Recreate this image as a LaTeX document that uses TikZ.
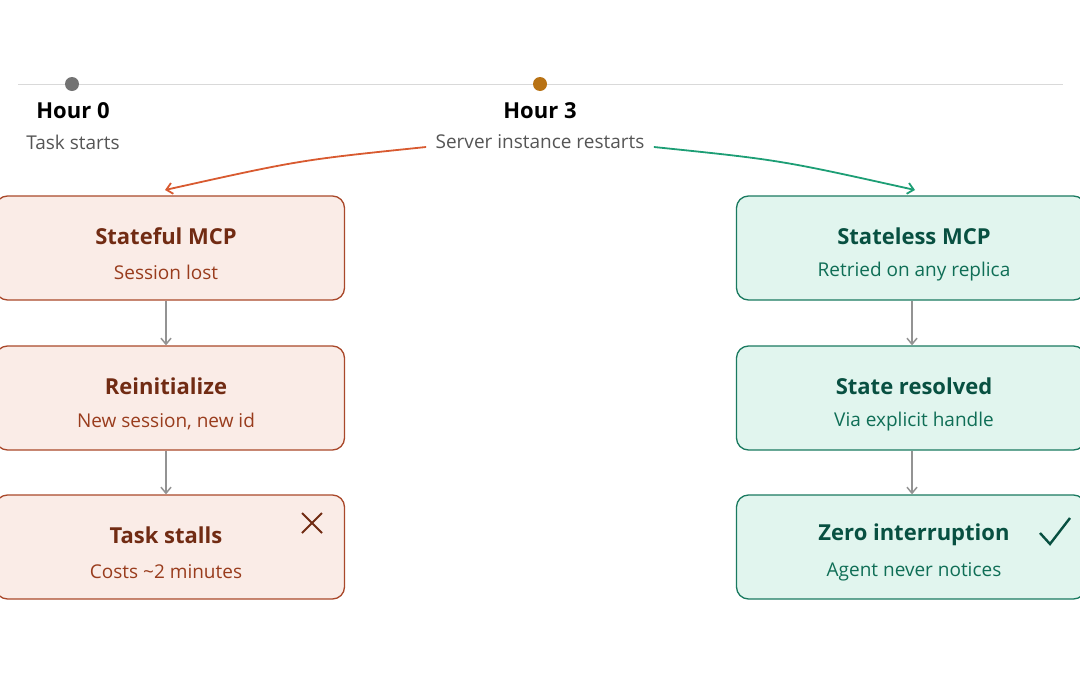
\documentclass[tikz,border=0pt]{standalone}
\usepackage{fontspec}
\setmainfont{Open Sans}
\usetikzlibrary{arrows.meta}
\definecolor{lfill}{HTML}{FAECE7}\definecolor{lbord}{HTML}{A9482A}
\definecolor{ltitle}{HTML}{712B13}\definecolor{lsub}{HTML}{993C1D}
\definecolor{rfill}{HTML}{E1F5EE}\definecolor{rbord}{HTML}{1A7A60}
\definecolor{rtitle}{HTML}{085041}\definecolor{rsub}{HTML}{0F6E56}
\definecolor{oarr}{HTML}{D85A30}\definecolor{garr}{HTML}{1D9E75}
\definecolor{gtxt}{HTML}{555555}\definecolor{dot3}{HTML}{B87214}
\begin{document}
\begin{tikzpicture}[x=1pt,y=-1pt,
 lbox/.style={draw=lbord,fill=lfill,line width=1.3pt,rounded corners=12pt,minimum width=349pt,minimum height=104pt},
 rbox/.style={draw=rbord,fill=rfill,line width=1.3pt,rounded corners=12pt,minimum width=349pt,minimum height=104pt},
 ttl/.style={font=\fontsize{22}{26}\selectfont\bfseries},
 sub/.style={font=\fontsize{19}{23}\selectfont},
 varr/.style={draw=gray!85,line width=1.5pt,-{Straight Barb[length=6pt,width=10pt]}}]
\useasboundingbox (0,0) rectangle (1080,675);
\draw[gray!30,line width=0.8pt] (18,84) -- (1063,84);
\fill[gray!90!black] (72,84) circle (7);
\fill[dot3] (540,84) circle (7);
\node[ttl] (h0) at (73,111) {Hour 0};
\node[sub,text=gtxt] (t0) at (73,142) {Task starts};
\node[ttl] (h3) at (540,111) {Hour 3};
\node[sub,text=gtxt] (t3) at (540,142) {Server instance restarts};
% left
\node[lbox] (l1) at (170,248) {};
\node[ttl,text=ltitle] at (166,236) {Stateful MCP};
\node[sub,text=lsub] at (166,272) {Session lost};
\node[lbox] (l2) at (170,398) {};
\node[ttl,text=ltitle] at (166,386) {Reinitialize};
\node[sub,text=lsub] at (166,422) {New session, new id};
\node[lbox] (l3) at (170,547) {};
\node[ttl,text=ltitle] at (166,535) {Task stalls};
\node[sub,text=lsub] at (166,572) {Costs \textasciitilde 2 minutes};
\draw[ltitle,line width=2pt] (302,513) -- (322,533) (322,513) -- (302,533);
% right
\node[rbox] (r1) at (911,248) {};
\node[ttl,text=rtitle] at (914,236) {Stateless MCP};
\node[sub,text=rsub] at (914,272) {Retried on any replica};
\node[rbox] (r2) at (911,398) {};
\node[ttl,text=rtitle] at (914,386) {State resolved};
\node[sub,text=rsub] at (914,422) {Via explicit handle};
\node[rbox] (r3) at (911,547) {};
\node[ttl,text=rtitle] at (914,535) {Zero interruption};
\node[sub,text=rsub] at (914,572) {Agent never notices};
\draw[rtitle,line width=2.4pt] (1040,533) -- (1050,544) -- (1070,518);
% arrows
\draw[varr] (l1.south -| 166,0) -- (l2.north -| 166,0);
\draw[varr] (l2.south -| 166,0) -- (l3.north -| 166,0);
\draw[varr] (r1.south -| 912,0) -- (r2.north -| 912,0);
\draw[varr] (r2.south -| 912,0) -- (r3.north -| 912,0);
\draw[oarr,line width=1.8pt,-{Straight Barb[length=6pt,width=11pt]}] (t3.west) ++(-6,5) .. controls (300,160) .. (165,190);
\draw[garr,line width=1.8pt,-{Straight Barb[length=6pt,width=11pt]}] (t3.east) ++(6,5) .. controls (780,160) .. (915,190);
\end{tikzpicture}
\end{document}
